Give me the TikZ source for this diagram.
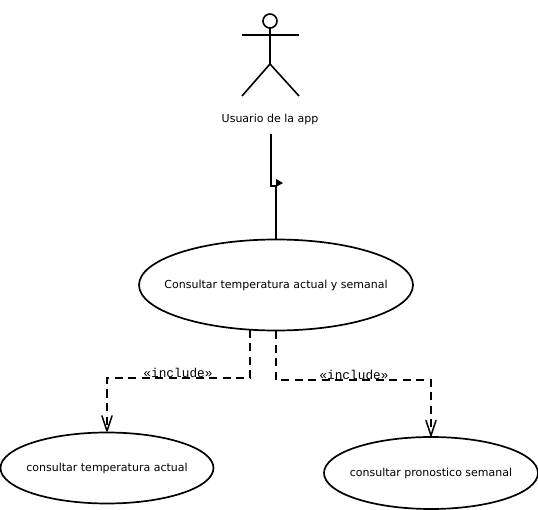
\documentclass[tikz,border=0pt]{standalone}
\usepackage{fontspec}
\setmainfont{DejaVu Sans}
\setmonofont{Liberation Mono}
\usetikzlibrary{arrows.meta,shapes.geometric}
\newcommand{\ucname}[1]{\raisebox{-1pt}{\makebox[0pt]{#1}}}
\tikzset{
  usecase/.style = {draw, ellipse, line width = 1.7pt, inner sep = 0pt, font = \fontsize{11}{13}\selectfont},
  includeline/.style = {draw, line width = 1.6pt, dash pattern = on 8pt off 5.5pt, -{Straight Barb[length = 15pt, width = 10pt, line width = 1.5pt, round]}},
  includelabel/.style = {font = \ttfamily\fontsize{12.8}{14}\selectfont, inner sep = 0pt}
}
\begin{document}
\begin{tikzpicture}[x = 1pt, y = -1pt]
      \useasboundingbox (0, 0) rectangle (538, 510);
      \begin{scope}[shift = {(270, 0)}, line width = 1.6pt]
        \draw (0, 21) circle [radius = 7];
        \draw (-28, 35) -- (29, 35);
        \draw (0, 28) -- (0, 64);
        \foreach \x in {-28, 29}{
          \draw (0, 64) -- (\x, 96);
        }
      \end{scope}
      \node (user) at (270, 124) [font = \fontsize{11}{13}\selectfont, inner sep = 0pt, text height = 9pt, text depth = 11pt] {Usuario de la app};
      \node (main) at (276, 285) [usecase, minimum width = 274, minimum height = 91] {\ucname{Consultar temperatura actual y semanal}};
      \node (actual) at (107, 468) [usecase, minimum width = 213, minimum height = 71] {\ucname{consultar temperatura actual}};
      \node (semanal) at (431, 473) [usecase, minimum width = 214, minimum height = 72] {\ucname{consultar pronostico semanal}};
      \coordinate (bend) at (276, 186);
      \coordinate (leftstart) at (250, 330);
      \draw [line width = 1.6pt] (271, 134) -- (271, 186) -- (bend) -- (main.north);
      \fill (276, 179) -- (283, 183) -- (276, 187) -- cycle;
      \draw [includeline] (leftstart) -- (250, 378) -- (107, 378) -- (actual.north);
      \draw [includeline] (main.south) -- (276, 380) -- (431, 380) -- (semanal.north);
      \node (incleft) at (178, 373) [includelabel] {«include»};
      \node (incright) at (354, 375) [includelabel] {«include»};
    \end{tikzpicture}
\end{document}
